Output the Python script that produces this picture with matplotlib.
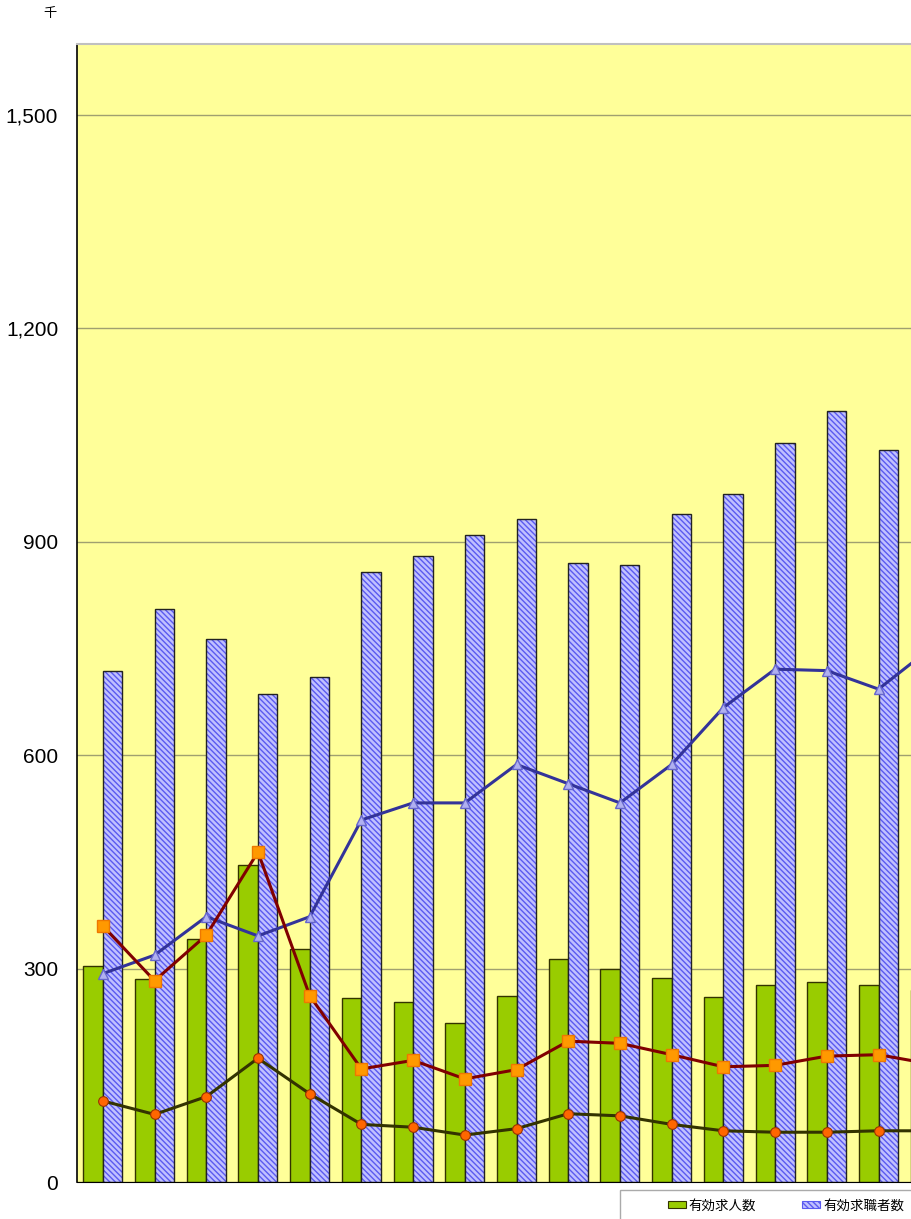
import numpy as np
import matplotlib
matplotlib.use('Agg')
import matplotlib.pyplot as plt
from matplotlib.patches import Patch, Rectangle

plt.rcParams['font.family'] = ['Liberation Sans', 'Noto Sans CJK JP', 'DejaVu Sans']
plt.rcParams['hatch.linewidth'] = 1.0

# Data (thousands)
offers = [304, 285, 342, 446, 327, 259, 253, 223, 261, 313, 299, 287, 260, 277, 281, 277, 270]
seekers = [719, 805, 764, 686, 710, 857, 880, 910, 932, 871, 867, 939, 968, 1039, 1084, 1029]
line_blue = [293, 319, 373, 346, 373, 509, 533, 533, 587, 560, 533, 587, 667, 721, 719, 693, 750]
line_red = [360, 283, 347, 464, 262, 159, 171, 145, 158, 198, 195, 179, 162, 164, 177, 179, 166]
line_dark = [114, 95, 120, 174, 124, 81, 77, 66, 75, 96, 93, 81, 72, 70, 70, 72, 72]

yticks = [0, 300, 600, 900, 1200, 1500]
ytick_labels = ['0', '300', '600', '900', '1,200', '1,500']
legend_labels = ['有効求人数', '有効求職者数']

W, H = 912, 1219
fig = plt.figure(figsize=(W / 100, H / 100), dpi=100)
step = 51.71
ax = fig.add_axes([77 / W, 1 - 1182 / H, 20 * step / W, 1138 / H])
ax.set_facecolor('#ffff99')

bw = 0.377
hatch = '\\\\\\\\\\\\'
x_off = np.arange(len(offers))
x_seek = np.arange(len(seekers))
ax.bar(x_off - bw / 2, offers, width=bw, color='#99cc00', edgecolor='#333300',
       linewidth=1, zorder=2)
ax.bar(x_seek + bw / 2, seekers, width=bw, color='#c0c0ff', edgecolor='#5a5af0',
       linewidth=0, hatch=hatch, zorder=2)
ax.bar(x_seek + bw / 2, seekers, width=bw, fill=False, edgecolor='#222222',
       linewidth=1, zorder=2)

xl = np.arange(len(line_blue))
ax.plot(xl, line_blue, color='#333399', lw=2.2, marker='^', ms=6.5,
        mfc='#b0b0f0', mec='#6666cc', mew=1, zorder=4)
ax.plot(xl, line_red, color='#800000', lw=2.2, marker='s', ms=8,
        mfc='#ff9900', mec='#ee7700', mew=1, zorder=4)
ax.plot(xl, line_dark, color='#333300', lw=2.2, marker='o', ms=7,
        mfc='#ff6600', mec='#993300', mew=0.8, zorder=4)

ax.set_xlim(-0.5, 19.5)
ax.set_ylim(0, 1600)
ax.set_yticks(yticks)
ax.set_yticklabels(ytick_labels)
ax.set_xticks([])
ax.tick_params(axis='y', length=0, pad=13.5, labelsize=15)
ax.yaxis.grid(True, color='#a0a070', lw=1)
ax.set_axisbelow(True)
ax.spines['left'].set_color('black')
ax.spines['left'].set_linewidth(1.2)
ax.spines['bottom'].set_color('black')
ax.spines['top'].set_color('#c0c0c0')
ax.spines['top'].set_linewidth(1.5)
ax.spines['right'].set_visible(False)

fig.text(50 / W, 1 - 14 / H, '千', ha='center', va='center', fontsize=9.5)

# legend box (runs off the edge of the picture)
fig.patches.append(Rectangle((620 / W, 1 - 1250 / H), 400 / W, 60 / H,
                             transform=fig.transFigure, facecolor='white',
                             edgecolor='#aaaaaa', lw=1))
handles = [Patch(facecolor='#99cc00', edgecolor='#333300', lw=0.8),
           Patch(facecolor='#c0c0ff', edgecolor='#5a5af0', hatch=hatch, lw=0.8)]
fig.legend(handles, legend_labels, loc='center left', frameon=False,
           bbox_to_anchor=(668 / W, 1 - 1206 / H), ncol=2, fontsize=9.7,
           handlelength=1.3, handleheight=0.45, handletextpad=0.25,
           columnspacing=3.4, borderpad=0, borderaxespad=0)

fig.savefig('out.png', dpi=100)
